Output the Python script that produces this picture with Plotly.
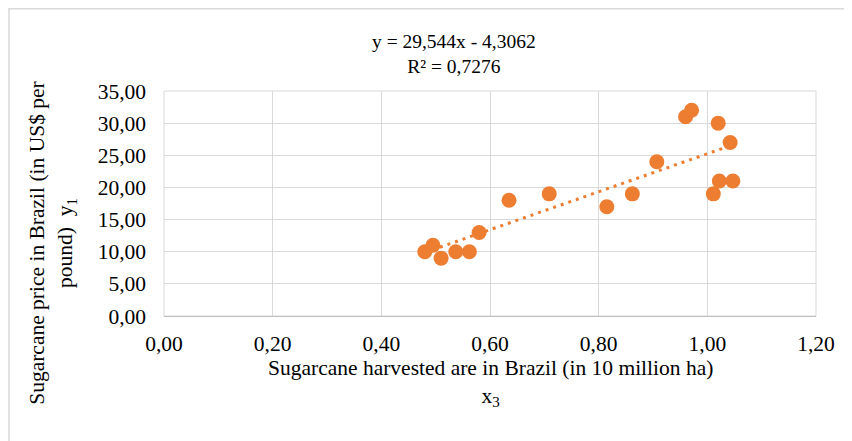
import plotly.graph_objects as go

# Data
area_x = [0.48, 0.495, 0.51, 0.537, 0.562, 0.58, 0.635, 0.709, 0.815, 0.862,
          0.907, 0.96, 0.971, 1.02, 1.042, 1.022, 1.047, 1.011]
price_y = [10, 11, 9, 10, 10, 13, 18, 19, 17, 19,
           24, 31, 32, 30, 27, 21, 21, 19]

# Trendline from the equation shown on the chart
slope = 29.544
intercept = -4.3062
r2 = 0.7276

x_ticks = [0, 0.2, 0.4, 0.6, 0.8, 1.0, 1.2]
y_ticks = [0, 5, 10, 15, 20, 25, 30, 35]

ORANGE = "#ED7D31"
GRID = "#D9D9D9"
FONT = "Liberation Serif"
FS_TICK = 21.5
FS_AXT = 21.5
FS_TITLE = 19.5

tx = [min(area_x), max(area_x)]
ty = [slope * v + intercept for v in tx]

fig = go.Figure()
fig.add_trace(go.Scatter(
    x=tx, y=ty, mode="lines",
    line=dict(color=ORANGE, width=3, dash="3px,5px"),
    hoverinfo="skip", showlegend=False))
fig.add_trace(go.Scatter(
    x=area_x, y=price_y, mode="markers",
    marker=dict(color=ORANGE, size=15, line=dict(width=0)),
    showlegend=False))

OFF = 8  # page body margin
W, H = 852, 441
PL, PR, PT, PB = 164, 816, 90.5, 316.5  # desired plot box in window pixels
L, T = PL - OFF, PT - OFF
R = W - (PR - OFF)
B = H - (PB - OFF)
pw, ph = PR - PL, PB - PT

def px(x):
    return (x - PL) / pw

def py(y):
    return (PB - y) / ph

fig.update_layout(
    width=W, height=H,
    margin=dict(l=L, r=R, t=T, b=B, autoexpand=False),
    paper_bgcolor="white", plot_bgcolor="white",
    separators=",.",
    font=dict(family=FONT, size=FS_TICK, color="#000000"),
    xaxis=dict(range=[0, 1.2], tickvals=x_ticks, tickformat=".2f",
               showgrid=True, gridcolor=GRID, gridwidth=1,
               zeroline=False, showline=True, linecolor="#BFBFBF", linewidth=1,
               ticks="", ticklabelstandoff=8,
               tickfont=dict(family=FONT, size=FS_TICK, color="#000000")),
    yaxis=dict(range=[0, 35], tickvals=y_ticks, tickformat=".2f",
               showgrid=True, gridcolor=GRID, gridwidth=1,
               zeroline=False, showline=False,
               ticks="", ticklabelstandoff=17,
               tickfont=dict(family=FONT, size=FS_TICK, color="#000000")),
    shapes=[
        dict(type="rect", xref="paper", yref="paper", x0=0, x1=1, y0=0, y1=1,
             line=dict(color=GRID, width=1), layer="below"),
        dict(type="rect", xref="paper", yref="paper",
             x0=px(9), x1=px(870), y0=py(460), y1=py(8),
             line=dict(color=GRID, width=1.5), layer="below"),
    ],
    annotations=[
        dict(xref="paper", yref="paper", x=px(454), y=py(53),
             xanchor="center", yanchor="middle", showarrow=False,
             text=f"y = {str(slope).replace('.', ',')}x - {str(-intercept).replace('.', ',')}<br>R² = {str(r2).replace('.', ',')}",
             font=dict(family=FONT, size=FS_TITLE, color="#000000")),
        dict(xref="paper", yref="paper", x=px(490), y=py(384),
             xanchor="center", yanchor="middle", showarrow=False,
             text="Sugarcane harvested are in Brazil (in 10 million ha)<br>x<sub>3</sub>",
             font=dict(family=FONT, size=FS_AXT, color="#000000")),
        dict(xref="paper", yref="paper", x=px(52), y=py(243),
             xanchor="center", yanchor="middle", showarrow=False, textangle=-90,
             text="Sugarcane price in Brazil (in US$ per<br>pound)  y<sub>1</sub>",
             font=dict(family=FONT, size=FS_AXT, color="#000000")),
    ],
)

fig.write_html("out.html")
